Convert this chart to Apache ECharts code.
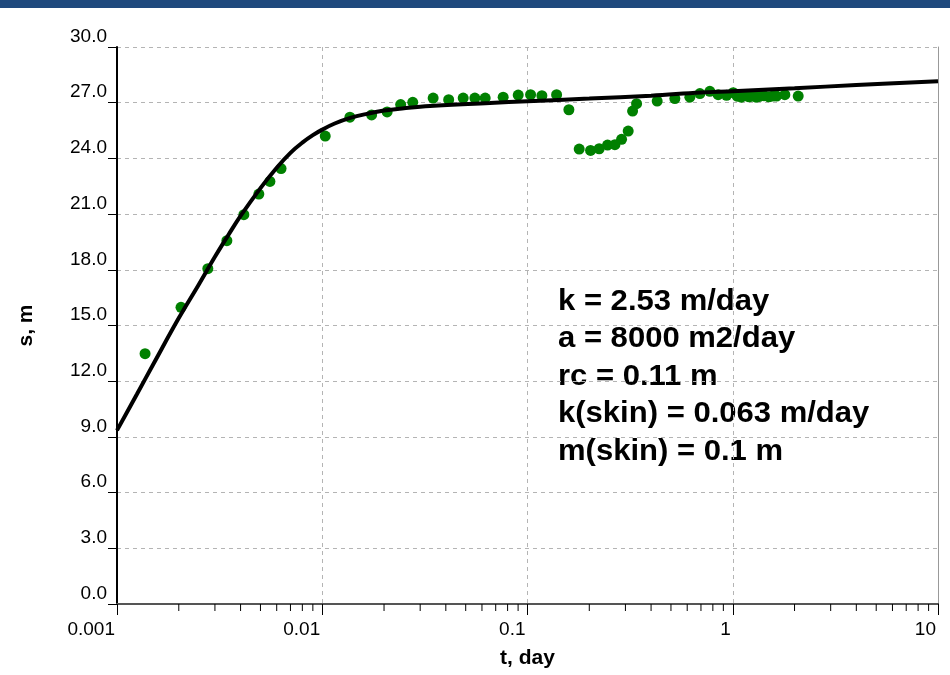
<!DOCTYPE html>
<html>
<head>
<meta charset="utf-8">
<script src="https://cdn.jsdelivr.net/npm/echarts@6/dist/echarts.min.js"></script>
<style>html,body{margin:0;padding:0;background:#fff;}#c{width:950px;height:675px;}</style>
</head>
<body>
<div id="c"></div>
<script>
// Observed drawdown (green points)
const obsT = [0.00137, 0.00205, 0.00277, 0.00343, 0.00415, 0.00491, 0.00556, 0.0063, 0.01034, 0.01364,
  0.0174, 0.0207, 0.0241, 0.0276, 0.0347, 0.0413, 0.0486, 0.0554, 0.0622, 0.0761,
  0.0901, 0.1035, 0.1175, 0.1386, 0.1591, 0.1786, 0.2029, 0.2235, 0.2455, 0.2666,
  0.2873, 0.3094, 0.3251, 0.340, 0.4283, 0.5224, 0.618, 0.6917, 0.7735, 0.849,
  0.933, 1.005, 1.05, 1.1, 1.15, 1.2, 1.25, 1.3, 1.35, 1.42,
  1.5, 1.567, 1.635, 1.794, 2.084];
const obsS = [13.48, 15.98, 18.06, 19.57, 20.97, 22.08, 22.76, 23.45, 25.2, 26.22,
  26.34, 26.5, 26.9, 27.02, 27.25, 27.16, 27.25, 27.25, 27.25, 27.3,
  27.41, 27.43, 27.38, 27.43, 26.62, 24.5, 24.43, 24.52, 24.72, 24.74,
  25.03, 25.47, 26.55, 26.95, 27.09, 27.22, 27.3, 27.49, 27.61, 27.43,
  27.4, 27.54, 27.35, 27.3, 27.38, 27.32, 27.36, 27.3, 27.34, 27.38,
  27.32, 27.36, 27.36, 27.43, 27.36];
// Fitted type curve (black line)
const fitT = [0.001, 0.00125, 0.0015, 0.002, 0.0025, 0.003, 0.0035, 0.004, 0.005, 0.006,
  0.007, 0.008, 0.009, 0.01, 0.0115, 0.0137, 0.0165, 0.02, 0.025, 0.0335, 0.0656, 0.1,
  0.2, 0.4, 0.7, 1, 2, 4, 10];
const fitS = [9.35, 11.3, 12.9, 15.4, 17.2, 18.7, 19.9, 20.9, 22.4, 23.5,
  24.3, 24.85, 25.25, 25.55, 25.88, 26.18, 26.4, 26.58, 26.7, 26.82, 26.98, 27.08,
  27.22, 27.38, 27.55, 27.62, 27.78, 27.95, 28.15];
// Minor tick positions on the log axis
const minorT = [];
[0.001, 0.01, 0.1, 1].forEach(function (d) { for (let k = 2; k <= 9; k++) minorT.push(+(d * k).toPrecision(3)); });
const paramLines = ['k = 2.53 m/day', 'a = 8000 m2/day', 'rc = 0.11 m', 'k(skin) = 0.063 m/day', 'm(skin) = 0.1 m'];

const FONT = 'Liberation Sans, Arial, sans-serif';
const chart = echarts.init(document.getElementById('c'), null, {renderer: 'canvas'});
const gridDash = {color: '#b4b4b4', type: [4, 4], width: 1};
const option = {
  animation: false,
  backgroundColor: '#ffffff',
  grid: {left: 117, top: 47, right: 12, bottom: 71, containLabel: false, outerBoundsMode: 'none'},
  xAxis: [{
    type: 'log', logBase: 10, min: 0.001, max: 10,
    name: 't, day', nameLocation: 'middle', nameGap: 44,
    nameTextStyle: {fontFamily: FONT, fontSize: 21, fontWeight: 'bold', color: '#000'},
    axisLine: {show: true, onZero: false, lineStyle: {color: '#000', width: 2}},
    axisTick: {show: true, length: 11, lineStyle: {color: '#000', width: 1}},
    axisLabel: {fontFamily: FONT, fontSize: 19, color: '#000', margin: 16, align: 'right',
      padding: [0, 2, 0, 0],
      formatter: function (v) { return String(+v.toPrecision(3)); }},
    splitLine: {show: true, lineStyle: gridDash},
    minorTick: {show: false}
  }, {
    type: 'log', logBase: 10, min: 0.001, max: 10, position: 'top',
    axisLine: {show: true, lineStyle: {color: '#555', width: 2}},
    axisTick: {show: false}, axisLabel: {show: false}, splitLine: {show: false}
  }],
  yAxis: [{
    type: 'value', min: 0, max: 30, interval: 3,
    name: 's, m', nameLocation: 'middle', nameGap: 80,
    nameTextStyle: {fontFamily: FONT, fontSize: 21, fontWeight: 'bold', color: '#000'},
    axisLine: {show: true, onZero: false, lineStyle: {color: '#000', width: 2}},
    axisTick: {show: true, length: 9, lineStyle: {color: '#000', width: 1}},
    axisLabel: {fontFamily: FONT, fontSize: 19, color: '#000', margin: 10, verticalAlign: 'bottom',
      padding: [0, 0, 1, 0],
      formatter: function (v) { return v.toFixed(1); }},
    splitLine: {show: true, lineStyle: gridDash}
  }, {
    type: 'value', min: 0, max: 30, interval: 3, position: 'right',
    axisLine: {show: true, lineStyle: {color: '#999', width: 1}},
    axisTick: {show: false}, axisLabel: {show: false}, splitLine: {show: false}
  }],
  graphic: [
    {type: 'rect', left: 0, top: 0, shape: {width: 950, height: 8}, style: {fill: '#1f497d'}, silent: true}
  ].concat(paramLines.map(function (txt, i) {
    return {type: 'text', left: 558, top: 287 + i * 37.5, silent: true, scaleX: 1.07,
      style: {text: txt, fontFamily: FONT, fontSize: 29, fontWeight: 'bold', fill: '#000'}};
  })),
  series: [
    {
      type: 'custom', name: 'minor', silent: true, clip: false,
      data: minorT.map(function (t) { return [t, 0]; }),
      renderItem: function (params, api) {
        const p = api.coord([api.value(0), 0]);
        return {type: 'line', shape: {x1: p[0], y1: p[1], x2: p[0], y2: p[1] + 7},
          style: {stroke: '#000', lineWidth: 1}};
      }
    },
    {
      type: 'scatter', name: 'observed', silent: true,
      symbol: 'circle', symbolSize: 11,
      itemStyle: {color: '#008000', opacity: 1},
      data: obsT.map(function (t, i) { return [t, obsS[i]]; }),
      z: 2
    },
    {
      type: 'line', name: 'fit', silent: true, smooth: 0.4,
      showSymbol: false, symbol: 'none',
      lineStyle: {color: '#000', width: 4},
      data: fitT.map(function (t, i) { return [t, fitS[i]]; }),
      z: 3
    }
  ]
};
chart.setOption(option);
</script>
</body>
</html>
